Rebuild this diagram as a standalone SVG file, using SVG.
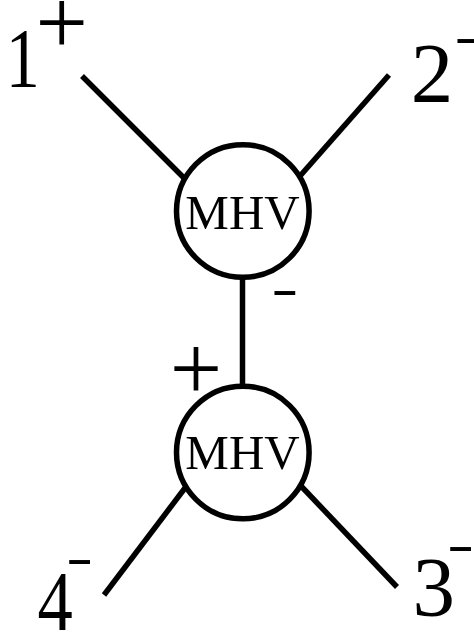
<svg xmlns="http://www.w3.org/2000/svg" width="474" height="635" viewBox="0 0 474 635">
  <style>
    .leg { stroke: #000; stroke-width: 5.5; fill: none; }
    .node { fill: #fff; stroke: #000; stroke-width: 5.5; }
    .t { font-family: "Liberation Serif", "Times New Roman", serif; fill: #000; }
    .big { font-size: 85px; }
    .sign { font-size: 93px; }
    .dash { font-size: 80px; }
    .mhv { font-size: 49px; text-anchor: middle; }
  </style>
  <rect width="474" height="635" fill="#fff"/>
  <g id="connectors">
    <line class="leg" x1="82" y1="76" x2="186" y2="180"/>
    <line class="leg" x1="389" y1="75" x2="300" y2="176"/>
    <line class="leg" x1="242.5" y1="276" x2="242.5" y2="387"/>
    <line class="leg" x1="185" y1="488" x2="104" y2="595"/>
    <line class="leg" x1="301" y1="486" x2="397" y2="587"/>
  </g>
  <g id="mhv-top">
    <circle class="node" cx="242.8" cy="211" r="66.3"/>
    <text class="t mhv" x="242.5" y="229">MHV</text>
  </g>
  <g id="mhv-bottom">
    <circle class="node" cx="242.8" cy="452.5" r="66.3"/>
    <text class="t mhv" x="242.5" y="469">MHV</text>
  </g>
  <g id="labels">
    <text class="t big" transform="translate(5.8,87.3) scale(0.8,1)" x="0" y="0">1</text>
    <text class="t sign" x="35.4" y="54.3">+</text>
    <text class="t big" x="410.8" y="101.7">2</text>
    <text class="t dash" transform="translate(454.5,53.5) scale(1,0.65)" x="0" y="0">-</text>
    <text class="t dash" transform="translate(271.5,306.2) scale(1,0.65)" x="0" y="0">-</text>
    <text class="t sign" x="169.7" y="400">+</text>
    <text class="t big" transform="translate(37.4,630) scale(0.83,1)" x="0" y="0">4</text>
    <text class="t dash" transform="translate(66.2,574.5) scale(1,0.65)" x="0" y="0">-</text>
    <text class="t big" x="412.5" y="615.5">3</text>
    <text class="t dash" transform="translate(447.2,561.9) scale(1,0.65)" x="0" y="0">-</text>
  </g>
</svg>
